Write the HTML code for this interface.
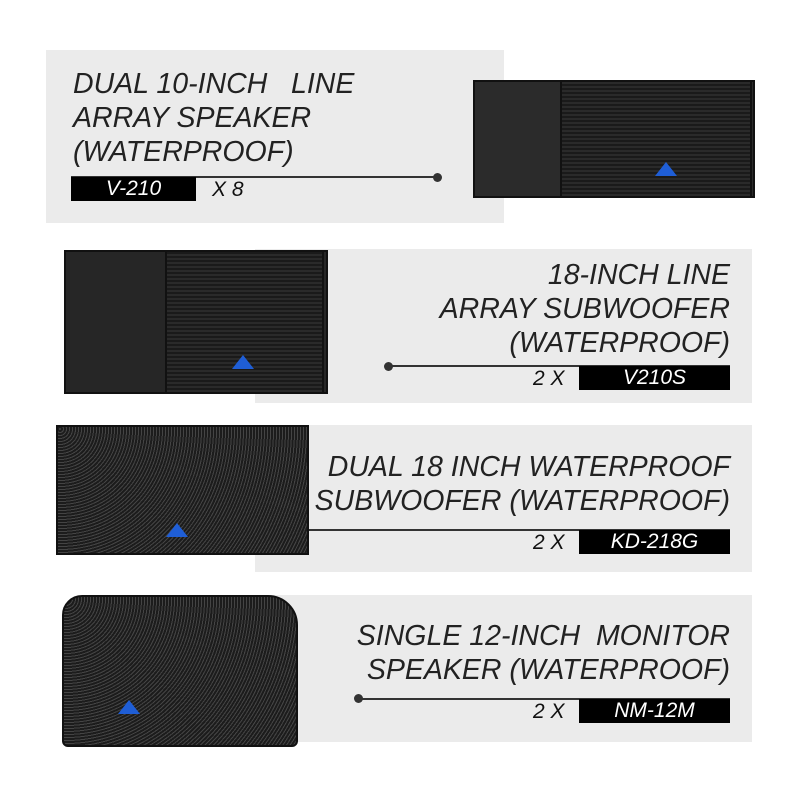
<!DOCTYPE html>
<html><head><style>
body{margin:0;width:800px;height:800px;background:#fff;position:relative;overflow:hidden;font-family:"Liberation Sans",sans-serif}
.p{position:absolute;background:#ebebeb}
.t{position:absolute;font-style:italic;font-size:28.5px;color:#222;line-height:34px;letter-spacing:0}
.r{text-align:right}
.ln{position:absolute;height:2px;background:#333}
.dot{position:absolute;width:9px;height:9px;border-radius:50%;background:#333}
.bx{position:absolute;background:#000;color:#fff;font-style:italic;font-size:21px;text-align:center;line-height:24px}
.q{position:absolute;font-style:italic;font-size:21px;color:#111;line-height:24px}
.sp{position:absolute;background:repeating-linear-gradient(0deg,#2a2a2a 0 2px,#1a1a1a 2px 4px);border:2px solid #111}
.logo{position:absolute;width:0;height:0;border-left:11px solid transparent;border-right:11px solid transparent;border-bottom:14px solid #1f5ed6}
</style></head><body>
<div class="p" style="left:46px;top:50px;width:458px;height:173px"></div>
<div class="p" style="left:255px;top:249px;width:497px;height:154px"></div>
<div class="p" style="left:255px;top:425px;width:497px;height:147px"></div>
<div class="p" style="left:255px;top:595px;width:497px;height:147px"></div>

<div class="t" style="left:73px;top:67px">DUAL 10-INCH&nbsp;&nbsp; LINE<br>ARRAY SPEAKER<br>(WATERPROOF)</div>
<div class="ln" style="left:71px;top:176px;width:366px"></div>
<div class="dot" style="left:433px;top:173px"></div>
<div class="bx" style="left:71px;top:177px;width:125px">V-210</div>
<div class="q" style="left:212px;top:178px">X 8</div>

<div class="t r" style="left:300px;width:430px;top:258px">18-INCH LINE<br>ARRAY SUBWOOFER<br>(WATERPROOF)</div>
<div class="dot" style="left:384px;top:362px"></div>
<div class="ln" style="left:388px;top:365px;width:342px"></div>
<div class="q" style="left:533px;top:367px">2 X</div>
<div class="bx" style="left:579px;top:366px;width:151px">V210S</div>

<div class="t r" style="left:280px;width:450px;top:450px">DUAL 18 INCH WATERPROOF<br>SUBWOOFER (WATERPROOF)</div>
<div class="ln" style="left:300px;top:529px;width:430px"></div>
<div class="q" style="left:533px;top:531px">2 X</div>
<div class="bx" style="left:579px;top:530px;width:151px">KD-218G</div>

<div class="t r" style="left:280px;width:450px;top:619px">SINGLE 12-INCH&nbsp; MONITOR<br>SPEAKER (WATERPROOF)</div>
<div class="dot" style="left:354px;top:694px"></div>
<div class="ln" style="left:358px;top:698px;width:372px"></div>
<div class="q" style="left:533px;top:700px">2 X</div>
<div class="bx" style="left:579px;top:699px;width:151px">NM-12M</div>

<div class="sp" style="left:473px;top:80px;width:278px;height:114px;background:#2b2b2b"></div>
<div class="sp" style="left:560px;top:80px;width:188px;height:114px"></div>
<div class="logo" style="left:655px;top:162px"></div>

<div class="sp" style="left:64px;top:250px;width:260px;height:140px;background:#262626"></div>
<div class="sp" style="left:165px;top:250px;width:155px;height:140px"></div>
<div class="logo" style="left:232px;top:355px"></div>

<div class="sp" style="left:56px;top:425px;width:249px;height:126px;background:repeating-radial-gradient(circle at 2px 2px,#444 0 1px,#1c1c1c 1px 3px)"></div>
<div class="logo" style="left:166px;top:523px"></div>

<div class="sp" style="left:62px;top:595px;width:232px;height:148px;border-radius:20px 30px 6px 6px;background:repeating-radial-gradient(circle at 2px 2px,#444 0 1px,#1c1c1c 1px 3px)"></div>
<div class="logo" style="left:118px;top:700px"></div>
</body></html>
